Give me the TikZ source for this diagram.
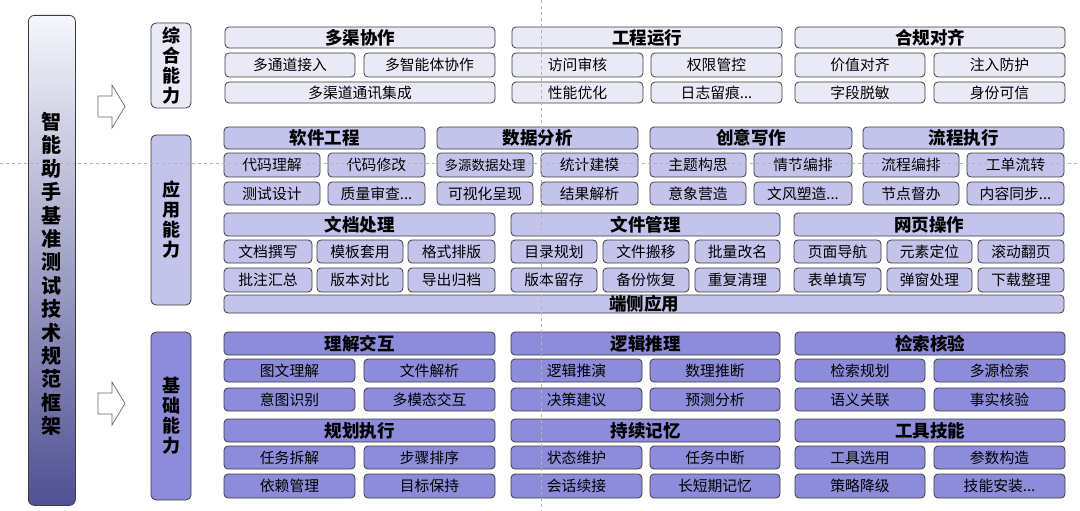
\documentclass[tikz,border=0pt]{standalone}
\usepackage{fontspec}
\setmainfont{Noto Sans CJK SC}
\usetikzlibrary{positioning}
\definecolor{bordc}{HTML}{3C3C3C}
\definecolor{topfill}{HTML}{EAEAF6}
\definecolor{midfill}{HTML}{C3C3EC}
\definecolor{botfill}{HTML}{8C8CDA}
\definecolor{guidec}{HTML}{B4B4B4}
\newcommand\bx[7]{\node[#7, minimum width={#4-#2}, minimum height={#5-#3}, anchor=north west] (#1) at (#2,#3) {#6};}
\tikzset{
  base/.style={draw=bordc, line width=0.8pt, rounded corners=4pt, inner sep=0pt, outer sep=0pt, text=black},
  hd/.style={base, font=\fontsize{17.5}{19}\selectfont\bfseries},
  sb/.style={base, font=\fontsize{14.8}{16}\selectfont},
  tophd/.style={hd, fill=topfill}, topsb/.style={sb, fill=topfill},
  midhd/.style={hd, fill=midfill}, midsb/.style={sb, fill=midfill},
  bothd/.style={hd, fill=botfill}, botsb/.style={sb, fill=botfill},
  cat/.style={base, rounded corners=5pt, align=center, font=\fontsize{18}{20}\selectfont\bfseries},
  blockarrow/.style={draw=gray!80!black, fill=white, line width=0.7pt},
  guide/.style={draw=guidec, line width=0.6pt, dash pattern=on 3pt off 3pt}
}
\begin{document}
\begin{tikzpicture}[x=1pt,y=-1pt]
\useasboundingbox (0,0) rectangle (1080,511);
% left bar
\node[draw=bordc, line width=0.8pt, rounded corners=6pt, minimum width=47, minimum height=490, anchor=north west,
  top color={rgb,255:red,246;green,246;blue,252}, middle color={rgb,255:red,192;green,192;blue,228}, bottom color={rgb,255:red,80;green,80;blue,148},
  inner sep=0pt] (main) at (28,15) {};
\node[align=center, inner sep=0pt, font=\fontsize{20}{23.4}\selectfont\bfseries] (mainlabel) at (51.5,274)
  {智\\能\\助\\手\\基\\准\\测\\试\\技\\术\\规\\范\\框\\架};
% arrows
\draw[blockarrow] (98,96) -- (112,96) -- (112,85) -- (125,106.5) -- (112,128) -- (112,117) -- (98,117) -- cycle;
\draw[blockarrow] (98,393) -- (112,393) -- (112,382) -- (125,403.5) -- (112,425) -- (112,414) -- (98,414) -- cycle;
% category boxes
\node[cat, fill=topfill, minimum width=40, minimum height=85, anchor=north west] (catA) at (151,23) {综\\合\\能\\力};
\node[cat, fill=midfill, minimum width=40, minimum height=170, anchor=north west] (catB) at (151,135) {应\\用\\能\\力};
\node[cat, fill=botfill, minimum width=40, minimum height=168, anchor=north west] (catC) at (151,332) {基\\础\\能\\力};
% ===== top section
\bx{a1}{225}{27}{495}{48}{多渠协作}{tophd}
\bx{a11}{225}{53}{355}{77}{多通道接入}{topsb}
\bx{a12}{364}{53}{495}{77}{多智能体协作}{topsb}
\bx{a13}{225}{82}{495}{103}{多渠道通讯集成}{topsb}
\bx{a2}{512}{27}{782}{48}{工程运行}{tophd}
\bx{a21}{512}{53}{643}{77}{访问审核}{topsb}
\bx{a22}{651}{53}{782}{77}{权限管控}{topsb}
\bx{a23}{512}{82}{643}{103}{性能优化}{topsb}
\bx{a24}{651}{82}{782}{103}{日志留痕...}{topsb}
\bx{a3}{795}{27}{1065}{48}{合规对齐}{tophd}
\bx{a31}{795}{53}{925}{77}{价值对齐}{topsb}
\bx{a32}{934}{53}{1065}{77}{注入防护}{topsb}
\bx{a33}{795}{82}{925}{103}{字段脱敏}{topsb}
\bx{a34}{934}{82}{1065}{103}{身份可信}{topsb}
% ===== middle section block 1
\bx{b1}{224}{127}{425}{149}{软件工程}{midhd}
\bx{b11}{224}{153}{320}{177}{代码理解}{midsb}
\bx{b12}{328}{153}{425}{177}{代码修改}{midsb}
\bx{b13}{224}{182}{320}{205}{测试设计}{midsb}
\bx{b14}{328}{182}{425}{205}{质量审查...}{midsb}
\bx{b2}{437}{127}{638}{149}{数据分析}{midhd}
\bx{b21}{437}{153}{533}{177}{\fontsize{13.5}{15}\selectfont 多源数据处理}{midsb}
\bx{b22}{541}{153}{638}{177}{统计建模}{midsb}
\bx{b23}{437}{182}{533}{205}{可视化呈现}{midsb}
\bx{b24}{541}{182}{638}{205}{结果解析}{midsb}
\bx{b3}{650}{127}{852}{149}{创意写作}{midhd}
\bx{b31}{650}{153}{746}{177}{主题构思}{midsb}
\bx{b32}{754}{153}{852}{177}{情节编排}{midsb}
\bx{b33}{650}{182}{746}{205}{意象营造}{midsb}
\bx{b34}{754}{182}{852}{205}{文风塑造...}{midsb}
\bx{b4}{863}{127}{1064}{149}{流程执行}{midhd}
\bx{b41}{863}{153}{959}{177}{流程编排}{midsb}
\bx{b42}{967}{153}{1064}{177}{工单流转}{midsb}
\bx{b43}{863}{182}{959}{205}{节点督办}{midsb}
\bx{b44}{967}{182}{1064}{205}{内容同步...}{midsb}
% ===== middle section block 2
\bx{c1}{224}{213}{495}{236}{文档处理}{midhd}
\bx{c11}{224}{240}{312}{263}{文档撰写}{midsb}
\bx{c12}{317}{240}{403}{263}{模板套用}{midsb}
\bx{c13}{408}{240}{495}{263}{格式排版}{midsb}
\bx{c14}{224}{268}{312}{292}{批注汇总}{midsb}
\bx{c15}{317}{268}{403}{292}{版本对比}{midsb}
\bx{c16}{408}{268}{495}{292}{导出归档}{midsb}
\bx{c2}{511}{213}{780}{236}{文件管理}{midhd}
\bx{c21}{511}{240}{597}{263}{目录规划}{midsb}
\bx{c22}{603}{240}{689}{263}{文件搬移}{midsb}
\bx{c23}{695}{240}{780}{263}{批量改名}{midsb}
\bx{c24}{511}{268}{597}{292}{版本留存}{midsb}
\bx{c25}{603}{268}{689}{292}{备份恢复}{midsb}
\bx{c26}{695}{268}{780}{292}{重复清理}{midsb}
\bx{c3}{794}{213}{1064}{236}{网页操作}{midhd}
\bx{c31}{794}{240}{881}{263}{页面导航}{midsb}
\bx{c32}{887}{240}{972}{263}{元素定位}{midsb}
\bx{c33}{978}{240}{1064}{263}{滚动翻页}{midsb}
\bx{c34}{794}{268}{881}{292}{表单填写}{midsb}
\bx{c35}{887}{268}{972}{292}{弹窗处理}{midsb}
\bx{c36}{978}{268}{1064}{292}{下载整理}{midsb}
\bx{c4}{224}{295}{1064}{313}{端侧应用}{midhd}
% ===== bottom section
\bx{d1}{224}{332}{495}{355}{理解交互}{bothd}
\bx{d11}{224}{359}{355}{382}{图文理解}{botsb}
\bx{d12}{364}{359}{495}{382}{文件解析}{botsb}
\bx{d13}{224}{388}{355}{411}{意图识别}{botsb}
\bx{d14}{364}{388}{495}{411}{多模态交互}{botsb}
\bx{d2}{511}{332}{780}{355}{逻辑推理}{bothd}
\bx{d21}{511}{359}{642}{382}{逻辑推演}{botsb}
\bx{d22}{650}{359}{780}{382}{数理推断}{botsb}
\bx{d23}{511}{388}{642}{411}{决策建议}{botsb}
\bx{d24}{650}{388}{780}{411}{预测分析}{botsb}
\bx{d3}{795}{332}{1065}{355}{检索核验}{bothd}
\bx{d31}{795}{359}{925}{382}{检索规划}{botsb}
\bx{d32}{934}{359}{1065}{382}{多源检索}{botsb}
\bx{d33}{795}{388}{925}{411}{语义关联}{botsb}
\bx{d34}{934}{388}{1065}{411}{事实核验}{botsb}
\bx{e1}{224}{419}{495}{442}{规划执行}{bothd}
\bx{e11}{224}{446}{355}{469}{任务拆解}{botsb}
\bx{e12}{364}{446}{495}{469}{步骤排序}{botsb}
\bx{e13}{224}{474}{355}{498}{依赖管理}{botsb}
\bx{e14}{364}{474}{495}{498}{目标保持}{botsb}
\bx{e2}{511}{419}{780}{442}{持续记忆}{bothd}
\bx{e21}{511}{446}{642}{469}{状态维护}{botsb}
\bx{e22}{650}{446}{780}{469}{任务中断}{botsb}
\bx{e23}{511}{474}{642}{498}{会话续接}{botsb}
\bx{e24}{650}{474}{780}{498}{长短期记忆}{botsb}
\bx{e3}{795}{419}{1065}{442}{工具技能}{bothd}
\bx{e31}{795}{446}{925}{469}{工具选用}{botsb}
\bx{e32}{934}{446}{1065}{469}{参数构造}{botsb}
\bx{e33}{795}{474}{925}{498}{策略降级}{botsb}
\bx{e34}{934}{474}{1065}{498}{技能安装...}{botsb}
% guides
\draw[guide] (0,163) -- (1080,163);
\draw[guide] (541,0) -- (541,511);
\end{tikzpicture}
\end{document}
